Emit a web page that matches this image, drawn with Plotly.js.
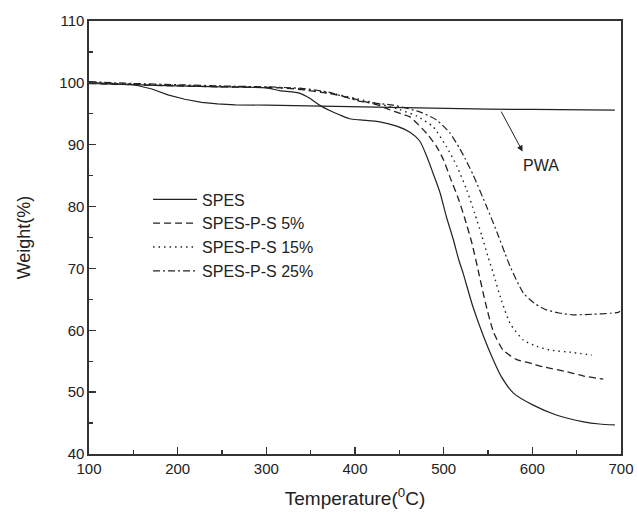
<!DOCTYPE html>
<html>
<head>
<meta charset="utf-8">
<script src="https://cdn.plot.ly/plotly-3.0.1.min.js"></script>
<style>html,body{margin:0;padding:0;background:#fff;}#chart{width:637px;height:513px;}</style>
</head>
<body>
<div id="chart"></div>
<script>
// Temperature (°C) / weight (%)
const pwaX = [100,130,152,171,189,208,227,245,265,300,350,400,450,500,550,600,650,693];
const pwaY = [100.1,99.85,99.65,99.0,98.05,97.35,96.85,96.6,96.45,96.4,96.25,96.1,96.0,95.85,95.75,95.7,95.65,95.6];

const spesX = [100,150,200,250,300,315,338,349,360,372,383,394,406,428,447,462,473,481,488,496,503,511,517,522,533,545,556,565,579,601,627,658,676,693];
const spesY = [99.9,99.7,99.5,99.35,99.2,98.75,98.3,97.5,96.4,95.5,94.8,94.2,94.0,93.7,93.0,92.0,90.6,88.1,85.4,82.2,78.4,74.6,71.4,69.2,63.8,59.0,55.2,52.5,49.8,47.9,46.3,45.2,44.85,44.7];

const p5X = [100,150,200,250,300,315,340,370,391,410,428,440,452,462,481,492,500,507,517,524,532,540,547,556,567,582,600,612,639,658,680];
const p5Y = [99.9,99.7,99.5,99.35,99.25,99.2,98.9,98.3,97.7,97.0,96.3,95.6,95.0,94.5,91.8,89.7,87.5,84.8,81.1,78.0,74.0,69.0,64.5,59.8,56.8,55.3,54.6,54.1,53.3,52.6,52.1];

const p15X = [100,150,200,250,300,340,370,400,430,450,470,488,503,515,526,535,543,550,556,565,575,590,605,620,646,667];
const p15Y = [100.0,99.8,99.6,99.4,99.3,99.0,98.4,97.5,96.5,95.7,94.6,92.9,89.7,86.5,82.7,78.9,75.3,71.9,69.2,64.9,61.1,58.4,57.4,56.8,56.4,56.0];

const p25X = [100,150,200,250,300,340,370,406,443,473,492,507,518,524,533,549,560,569,575,590,603,616,630,646,669,688,697,699];
const p25Y = [100.2,99.9,99.7,99.5,99.35,99.1,98.5,97.0,96.4,95.3,94.0,91.9,89.4,87.8,85.2,79.8,75.9,72.5,70.3,66.0,64.3,63.3,62.8,62.5,62.6,62.75,62.9,63.1];

const names = ['SPES','SPES-P-S 5%','SPES-P-S 15%','SPES-P-S 25%'];
const xTicks = [100,200,300,400,500,600,700];
const yTicks = [40,50,60,70,80,90,100,110];

const ink = '#222';
const font = 'Liberation Sans, Arial, sans-serif';

const traces = [
  {x: pwaX, y: pwaY, mode:'lines', line:{color:ink, width:1.2}, showlegend:false, hoverinfo:'skip'},
  {x: spesX, y: spesY, mode:'lines', name:names[0], line:{color:ink, width:1.2, shape:'spline', smoothing:0.6}},
  {x: p5X, y: p5Y, mode:'lines', name:names[1], line:{color:ink, width:1.3, dash:'7px,4px', shape:'spline', smoothing:0.6}},
  {x: p15X, y: p15Y, mode:'lines', name:names[2], line:{color:ink, width:1.4, dash:'1.5px,4px', shape:'spline', smoothing:0.6}},
  {x: p25X, y: p25Y, mode:'lines', name:names[3], line:{color:ink, width:1.2, dash:'7px,3px,2px,3px', shape:'spline', smoothing:0.6}}
];

const axisCommon = {
  showgrid:false, zeroline:false, showline:true, linecolor:'#333', linewidth:1.6, mirror:true,
  ticks:'inside', ticklen:7, tickwidth:1.4, tickcolor:'#333',
  tickfont:{family:font, size:15, color:ink},
  minor:{ticks:'inside', ticklen:4, tickwidth:1.2, tickcolor:'#333'}
};

const layout = {
  width:637, height:513,
  margin:{l:89, r:16, t:21, b:59},
  paper_bgcolor:'#fff', plot_bgcolor:'#fff',
  font:{family:font, color:ink},
  xaxis: Object.assign({}, axisCommon, {
    range:[100,700], tickvals:xTicks, ticktext:xTicks.map(String),
    minor:Object.assign({}, axisCommon.minor, {dtick:50, tick0:100}),
    title:{text:'Temperature(<sup>0</sup>C)', font:{family:font, size:19, color:ink}, standoff:16}
  }),
  yaxis: Object.assign({}, axisCommon, {
    range:[40,110], tickvals:yTicks, ticktext:yTicks.map(String),
    minor:Object.assign({}, axisCommon.minor, {dtick:5, tick0:40}),
    title:{text:'Weight(%)', font:{family:font, size:18, color:ink}, standoff:24}
  }),
  showlegend:true,
  legend:{x:0.111, y:0.627, xanchor:'left', yanchor:'top', bgcolor:'rgba(0,0,0,0)',
          font:{family:font, size:16, color:ink}, tracegroupgap:0, itemwidth:44},
  annotations:[
    {x:589, y:88.9, ax:564, ay:95.6, axref:'x', ayref:'y', xref:'x', yref:'y', text:'',
     showarrow:true, arrowhead:2, arrowsize:1.2, arrowwidth:1, arrowcolor:ink},
    {x:610, y:86.6, xref:'x', yref:'y', text:'PWA', showarrow:false,
     font:{family:font, size:16, color:ink}}
  ]
};

Plotly.newPlot('chart', traces, layout, {displayModeBar:false, staticPlot:true});
</script>
</body>
</html>
